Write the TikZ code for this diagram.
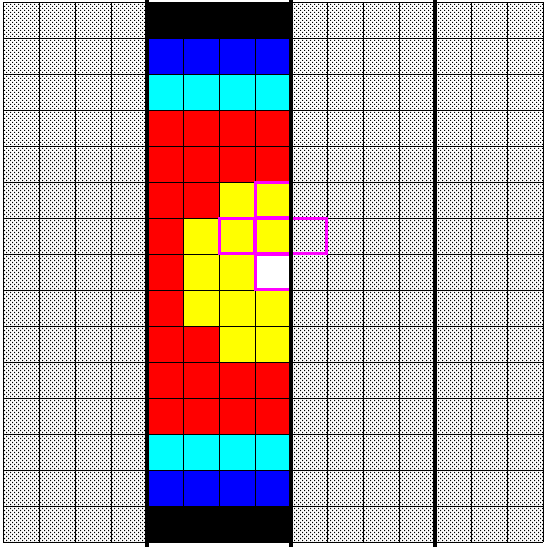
\documentclass[tikz,border=0pt]{standalone}
\usetikzlibrary{patterns}
\pgfdeclarepatternformonly{stagdots}{\pgfpoint{-1pt}{-1pt}}{\pgfpoint{5pt}{5pt}}{\pgfpoint{4pt}{4pt}}{%
  \pgfpathrectangle{\pgfpoint{0pt}{0pt}}{\pgfpoint{1.1pt}{1.1pt}}%
  \pgfpathrectangle{\pgfpoint{2pt}{2pt}}{\pgfpoint{1.1pt}{1.1pt}}%
  \pgfusepath{fill}}
\definecolor{cblue}{RGB}{0,0,255}
\definecolor{ccyan}{RGB}{0,255,255}
\definecolor{cred}{RGB}{255,0,0}
\definecolor{cyellow}{RGB}{255,255,0}
\definecolor{cmag}{RGB}{255,0,255}
\newcommand\cellfill[3]{\fill[#3] ({3+36*#1},{2+36*#2}) rectangle ++(36,36);}
\newcommand\cellmark[2]{\draw[markline] ({3+36*#1+0.5},{2+36*#2+0.5}) rectangle ++(35,35);}
\tikzset{
  gridline/.style={line width=1pt, black},
  thickline/.style={line width=4pt, black},
  markline/.style={line width=3pt, cmag},
}
\begin{document}
\begin{tikzpicture}[x=1pt,y=-1pt]
\useasboundingbox (0,0) rectangle (548,547);
\fill[white] (0,0) rectangle (548,547);
\fill[pattern=stagdots] (3,2) rectangle (147,542);
\fill[pattern=stagdots] (291,2) rectangle (543,542);
% columns 4..7
\foreach \c in {4,...,7}{
  \cellfill{\c}{1}{cblue}
  \cellfill{\c}{2}{ccyan}
  \cellfill{\c}{3}{cred}
  \cellfill{\c}{4}{cred}
  \cellfill{\c}{10}{cred}
  \cellfill{\c}{11}{cred}
  \cellfill{\c}{12}{ccyan}
  \cellfill{\c}{13}{cblue}
}
\cellfill{4}{5}{cred}\cellfill{5}{5}{cred}\cellfill{6}{5}{cyellow}\cellfill{7}{5}{cyellow}
\cellfill{4}{6}{cred}\cellfill{5}{6}{cyellow}\cellfill{6}{6}{cyellow}\cellfill{7}{6}{cyellow}
\cellfill{4}{7}{cred}\cellfill{5}{7}{cyellow}\cellfill{6}{7}{cyellow}\cellfill{7}{7}{white}
\cellfill{4}{8}{cred}\cellfill{5}{8}{cyellow}\cellfill{6}{8}{cyellow}\cellfill{7}{8}{cyellow}
\cellfill{4}{9}{cred}\cellfill{5}{9}{cred}\cellfill{6}{9}{cyellow}\cellfill{7}{9}{cyellow}
% grid
\foreach \i in {0,...,15}{
  \draw[gridline] ({3+36*\i},2) -- ({3+36*\i},542);
  \draw[gridline] (3,{2+36*\i}) -- (543,{2+36*\i});
}
% black end rows
\fill[black] (147,2) rectangle (291,38);
\fill[black] (147,506) rectangle (291,542);
% magenta marks
\cellmark{7}{5}
\cellmark{6}{6}
\cellmark{7}{6}
\cellmark{8}{6}
\cellmark{7}{7}
% thick lines
\draw[thickline] (147,0) -- (147,547);
\draw[thickline] (291,0) -- (291,547);
\draw[thickline] (435,0) -- (435,547);
\end{tikzpicture}
\end{document}
